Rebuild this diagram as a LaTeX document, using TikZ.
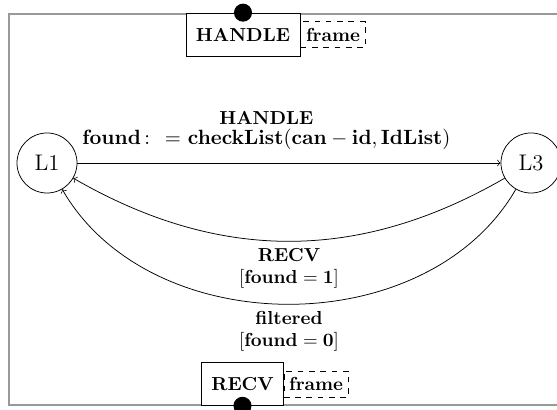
\documentclass[tikz,border=0pt]{standalone}
\usetikzlibrary{positioning}
\newcommand\toplbl{HANDLE\\[-1.5pt]{\fontsize{11.3pt}{13pt}\selectfont$\mathbf{found}\mkern3mu{:}\mkern13mu{=}\mkern6mu\mathbf{checkList}(\mathbf{can}-\mathbf{id},\mathbf{IdList})$}}
\newcommand\recvlbl{RECV\\$[\mathbf{found}=\mathbf{1}]$}
\newcommand\filtlbl{filtered\\$[\mathbf{found}=\mathbf{0}]$}
\begin{document}
\begin{tikzpicture}[x=0.5314pt,y=0.5314pt,
  statenode/.style={circle,draw,minimum size=31.9pt,inner sep=0pt,font=\large},
  msgbox/.style={draw,fill=white,font=\bfseries,minimum height=22.8pt,inner xsep=5pt},
  framebox/.style={draw,dashed,font=\bfseries,inner xsep=2.8pt,minimum height=13.4pt},
  blackdot/.style={circle,fill=black,inner sep=0pt,minimum size=9.6pt},
  edgelabel/.style={align=center,font=\bfseries}]
\useasboundingbox (0,0) rectangle (557,-410);
\draw[black!40,line width=1pt] (570,-14) -- (9,-14) -- (9,-405) -- (570,-405);
\node[statenode] (L1) at (47,-163) {L1};
\node[statenode] (L3) at (531,-163) {L3};
\node[msgbox,minimum width=60.6pt] (h) at (243,-34.5) {HANDLE};
\node[framebox,anchor=west] (hf) at (h.east) {frame};
\node[blackdot] (hd) at (h.north) {};
\node[msgbox,minimum width=43pt] (r) at (242.5,-384) {RECV};
\node[framebox,anchor=west] (rf) at (r.east) {frame};
\node[blackdot] (rd) at (r.south) {};
\draw[->] (L1) -- node[edgelabel,above=3.5pt,xshift=-12pt] {\toplbl} (L3);
\draw[->] (L3) to[bend left=30] node[edgelabel,below] {\recvlbl} (L1);
\draw[->] (L3) to[bend left=60] node[edgelabel,below] {\filtlbl} (L1);
\end{tikzpicture}
\end{document}
